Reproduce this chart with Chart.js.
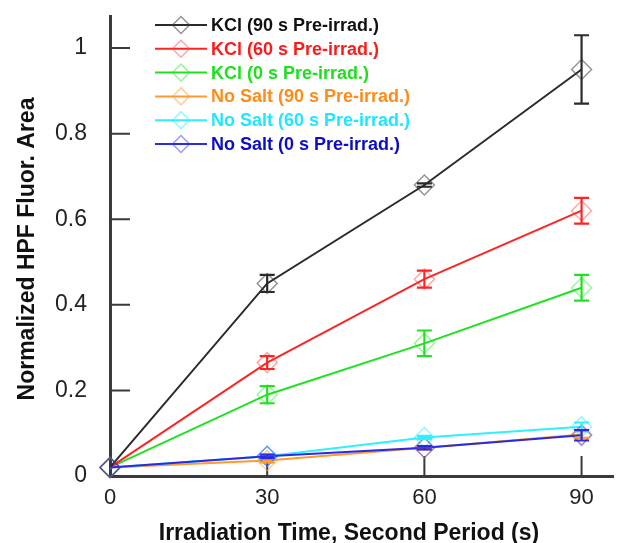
<!DOCTYPE html>
<html>
<head>
<meta charset="utf-8">
<script src="https://cdn.jsdelivr.net/npm/chart.js@4.4.1/dist/chart.umd.min.js"></script>
<style>
  body { margin: 0; background: #fff; }
  #wrap { width: 617px; height: 543px; position: relative; }
</style>
</head>
<body>
<div id="wrap"><canvas id="hpfChart"></canvas></div>
<script>
// irradiation time, second period (s)
const times = [0, 30, 60, 90];
const xTicks = [0, 30, 60, 90];
const yTicks = [0, 0.2, 0.4, 0.6, 0.8, 1];

const seriesNames = [
    'KCl (90 s Pre-irrad.)',
    'KCl (60 s Pre-irrad.)',
    'KCl (0 s Pre-irrad.)',
    'No Salt (90 s Pre-irrad.)',
    'No Salt (60 s Pre-irrad.)',
    'No Salt (0 s Pre-irrad.)'
];

const kcl90 = [0.02, 0.45, 0.68, 0.95];
const kcl90Err = [0, 0.02, 0.004, 0.08];
const kcl60 = [0.02, 0.265, 0.46, 0.62];
const kcl60Err = [0, 0.015, 0.02, 0.03];
const kcl0 = [0.02, 0.19, 0.31, 0.44];
const kcl0Err = [0, 0.02, 0.03, 0.03];
const noSalt90 = [0.02, 0.036, 0.066, 0.097];
const noSalt90Err = [0, 0.004, 0.004, 0.008];
const noSalt60 = [0.02, 0.046, 0.09, 0.115];
const noSalt60Err = [0, 0.004, 0.004, 0.01];
const noSalt0 = [0.02, 0.046, 0.066, 0.095];
const noSalt0Err = [0, 0.004, 0.004, 0.012];

const values = [kcl90, kcl60, kcl0, noSalt90, noSalt60, noSalt0];
const errors = [kcl90Err, kcl60Err, kcl0Err, noSalt90Err, noSalt60Err, noSalt0Err];

// line colour, faded marker colour, legend text colour
const lineColors = ['#2b2b2b', '#ff2424', '#1fe31f', '#ff9a2e', '#2ef0ff', '#2a2ae6'];
const markerColors = ['rgba(60,60,60,0.55)', 'rgba(255,60,60,0.45)', 'rgba(40,230,40,0.45)',
    'rgba(255,160,60,0.5)', 'rgba(40,240,255,0.5)', 'rgba(60,60,240,0.5)'];
const textColors = ['#111111', '#ff1a1a', '#1ee01e', '#ff8c1a', '#22e6ff', '#0c0cc8'];
const drawOrder = [1, 2, 3, 5, 4, 0];

const datasets = values.map((vals, i) => ({
    label: seriesNames[i],
    data: vals.map((v, j) => ({ x: times[j], y: v, err: errors[i][j] })),
    borderColor: lineColors[i],
    borderWidth: 2,
    tension: 0,
    pointStyle: 'rectRot',
    pointRadius: 10,
    pointBorderWidth: 1.5,
    pointBorderColor: markerColors[i],
    pointBackgroundColor: 'rgba(0,0,0,0)',
    clip: false,
    order: drawOrder[i]
}));

const axisColor = '#3a3a3a';

// no extra room for end labels, the chart area is set by the layout padding
function noScalePadding(scale) {
    scale.paddingTop = 0;
    scale.paddingBottom = 0;
    scale.paddingLeft = 0;
    scale.paddingRight = 0;
}

const innerTicks = {
    id: 'innerTicks',
    beforeDatasetsDraw(chart) {
        const { ctx, scales: { x, y } } = chart;
        ctx.save();
        ctx.strokeStyle = axisColor;
        ctx.lineWidth = 2;
        ctx.beginPath();
        xTicks.forEach(t => {
            const px = x.getPixelForValue(t);
            ctx.moveTo(px, y.bottom);
            ctx.lineTo(px, y.bottom - 20);
        });
        yTicks.forEach(t => {
            const py = y.getPixelForValue(t);
            ctx.moveTo(x.left, py);
            ctx.lineTo(x.left + 20, py);
        });
        ctx.stroke();
        ctx.restore();
    }
};

const errorBars = {
    id: 'errorBars',
    afterDatasetsDraw(chart) {
        const { ctx, scales: { x, y } } = chart;
        ctx.save();
        ctx.lineWidth = 2.2;
        chart.data.datasets.forEach((ds, i) => {
            ctx.strokeStyle = lineColors[i];
            ds.data.forEach(p => {
                if (!p.err) return;
                const px = x.getPixelForValue(p.x);
                const top = y.getPixelForValue(p.y + p.err);
                const bot = y.getPixelForValue(p.y - p.err);
                ctx.beginPath();
                ctx.moveTo(px, top);
                ctx.lineTo(px, bot);
                ctx.moveTo(px - 7.5, top);
                ctx.lineTo(px + 7.5, top);
                ctx.moveTo(px - 7.5, bot);
                ctx.lineTo(px + 7.5, bot);
                ctx.stroke();
            });
        });
        ctx.restore();
    }
};

const legendAndTitles = {
    id: 'legendAndTitles',
    afterDraw(chart) {
        const { ctx } = chart;
        ctx.save();
        // legend
        ctx.font = 'bold 18px "Liberation Sans", Arial, sans-serif';
        ctx.textBaseline = 'middle';
        ctx.textAlign = 'left';
        seriesNames.forEach((name, i) => {
            const cy = 25 + i * 23.8;
            ctx.strokeStyle = lineColors[i];
            ctx.lineWidth = 2;
            ctx.beginPath();
            ctx.moveTo(155, cy);
            ctx.lineTo(207, cy);
            ctx.stroke();
            ctx.strokeStyle = markerColors[i];
            ctx.lineWidth = 1.5;
            ctx.beginPath();
            ctx.moveTo(181, cy - 8.5);
            ctx.lineTo(189.5, cy);
            ctx.lineTo(181, cy + 8.5);
            ctx.lineTo(172.5, cy);
            ctx.closePath();
            ctx.stroke();
            ctx.fillStyle = textColors[i];
            ctx.fillText(name, 211, cy + 1);
        });
        // axis titles
        ctx.fillStyle = '#111';
        ctx.font = 'bold 23px "Liberation Sans", Arial, sans-serif';
        ctx.textBaseline = 'alphabetic';
        ctx.textAlign = 'center';
        ctx.fillText('Irradiation Time, Second Period (s)', 349, 540);
        ctx.translate(34, 249);
        ctx.rotate(-Math.PI / 2);
        ctx.fillText('Normalized HPF Fluor. Area', 0, 0);
        ctx.restore();
    }
};

new Chart(document.getElementById('hpfChart'), {
    type: 'line',
    data: { datasets },
    options: {
        responsive: true,
        maintainAspectRatio: false,
        animation: false,
        layout: { autoPadding: false, padding: { top: 16, right: 4, left: 0, bottom: 0 } },
        plugins: {
            legend: { display: false },
            tooltip: { enabled: false }
        },
        scales: {
            x: {
                type: 'linear',
                min: 0,
                max: 96,
                afterFit(scale) { scale.height = 67; noScalePadding(scale); },
                afterBuildTicks(scale) { scale.ticks = xTicks.map(v => ({ value: v })); },
                grid: { display: false, drawTicks: false },
                border: { display: true, color: axisColor, width: 3 },
                ticks: {
                    color: '#222',
                    padding: 9,
                    maxRotation: 0,
                    font: { family: '"Liberation Sans", Arial, sans-serif', size: 22 }
                }
            },
            y: {
                min: 0,
                max: 1.075,
                afterFit(scale) { scale.width = 110; noScalePadding(scale); },
                afterBuildTicks(scale) { scale.ticks = yTicks.map(v => ({ value: v })); },
                grid: { display: false, drawTicks: false },
                border: { display: true, color: axisColor, width: 3 },
                ticks: {
                    color: '#222',
                    padding: 23,
                    callback: v => String(v),
                    font: { family: '"Liberation Sans", Arial, sans-serif', size: 23 }
                }
            }
        }
    },
    plugins: [innerTicks, errorBars, legendAndTitles]
});
</script>
</body>
</html>
